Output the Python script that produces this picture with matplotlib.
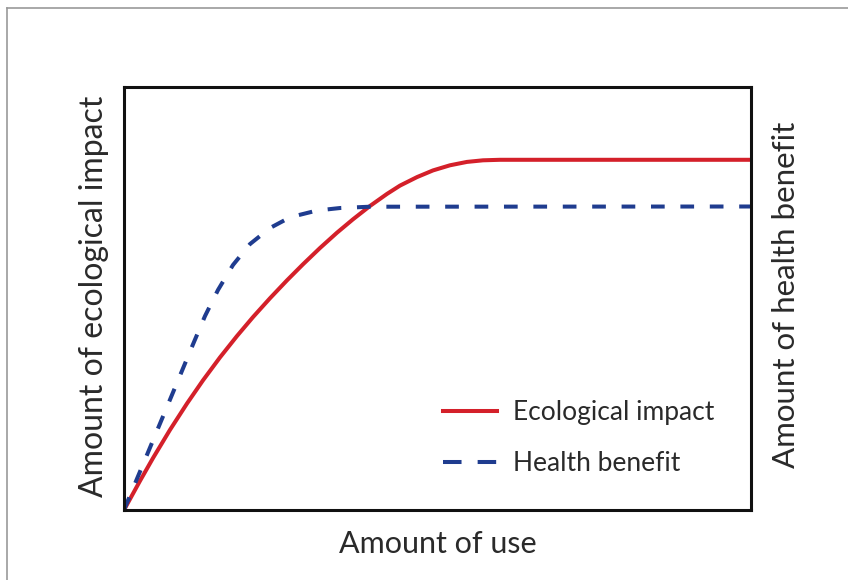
import matplotlib.pyplot as plt
from matplotlib.lines import Line2D

# region Data (axes fractions)
use = [0.0, 0.0255, 0.0463, 0.0734, 0.1005, 0.1260, 0.1531, 0.1802, 0.2057,
       0.2329, 0.2600, 0.2855, 0.3126, 0.3397, 0.3652, 0.3923, 0.4195, 0.4402,
       0.4673, 0.4928, 0.5199, 0.5470, 0.5726, 0.5997, 1.0]
ecological = [0.0, 0.0688, 0.1229, 0.1896, 0.2518, 0.3066, 0.3608, 0.4113,
              0.4560, 0.5007, 0.5430, 0.5809, 0.6194, 0.6556, 0.6872, 0.7187,
              0.7473, 0.7669, 0.7870, 0.8028, 0.8149, 0.8229, 0.8267, 0.8279,
              0.8279]

use_health = [0.0, 0.0207, 0.0367, 0.0542, 0.0734, 0.0925, 0.1100, 0.1292,
              0.1499, 0.1738, 0.2010, 0.2329, 0.2568, 0.2759, 0.3078, 0.3445,
              0.3923, 1.0]
health = [0.0, 0.0738, 0.1305, 0.1929, 0.2610, 0.3291, 0.3915, 0.4586,
          0.5201, 0.5792, 0.6288, 0.6667, 0.6856, 0.6962, 0.7080, 0.7139,
          0.7170, 0.7175]

labels = ["Ecological impact", "Health benefit"]
# endregion

red = "#d4202a"
blue = "#1f3c8f"
text_color = "#2a2a2a"
plt.rcParams["font.family"] = ["Lato", "DejaVu Sans"]

fig = plt.figure(figsize=(8.48, 5.8), dpi=100)
ax = fig.add_axes([124 / 848, 1 - 510 / 580, 627 / 848, 423 / 580])

ax.plot(use, ecological, color=red, lw=2.9, solid_joinstyle="round")
ax.plot(use_health, health, color=blue, lw=2.9, dashes=(3.4, 3.9))

ax.set_xlim(0, 1)
ax.set_ylim(0, 1)
ax.set_xticks([])
ax.set_yticks([])
for s in ax.spines.values():
    s.set_linewidth(2.2)
    s.set_color("#111111")

# axis titles placed by hand
fig.text(437.5 / 848, 1 - 544 / 580, "Amount of use", fontsize=22,
         color=text_color, ha="center", va="center")
fig.text(94 / 848, 1 - 296 / 580, "Amount of ecological impact", fontsize=23,
         color=text_color, ha="center", va="center", rotation=90)
fig.text(786 / 848, 1 - 295 / 580, "Amount of health benefit", fontsize=22.5,
         color=text_color, ha="center", va="center", rotation=90)

# legend handles (the dashed key shows two longer dashes in the original)
handles = [Line2D([], [], color=red, lw=2.9),
           Line2D([], [], color=blue, lw=2.9, dashes=(4.6, 4.0))]
ax.legend(handles, labels, loc="center left",
          bbox_to_anchor=((443 - 124) / 627, (510 - 438) / 423),
          frameon=False, fontsize=19, borderpad=0, borderaxespad=0,
          handlelength=2.05, handletextpad=0.6, labelspacing=0.98,
          labelcolor=text_color)

# thin grey outer frame, only left and top edges visible
fig.add_artist(Line2D([7 / 848, 7 / 848], [0, 1 - 8 / 580],
                      transform=fig.transFigure, color="#999999", lw=1.2))
fig.add_artist(Line2D([7 / 848, 1], [1 - 8 / 580, 1 - 8 / 580],
                      transform=fig.transFigure, color="#999999", lw=1.2))

fig.savefig("out.png", dpi=100)
